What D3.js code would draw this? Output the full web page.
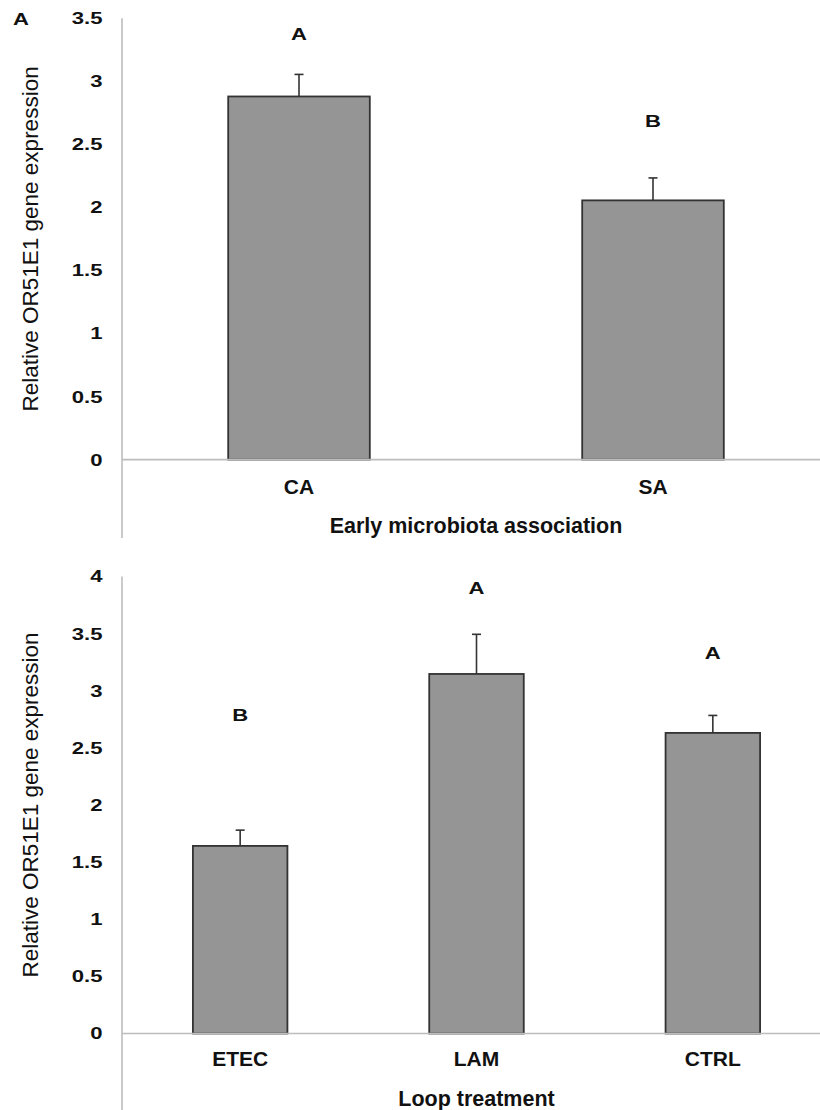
<!DOCTYPE html>
<html>
<head>
<meta charset="utf-8">
<script src="https://cdn.jsdelivr.net/npm/d3@7"></script>
<style>
  body { margin: 0; background: #fff; }
  svg { display: block; font-family: "Liberation Sans", Arial, sans-serif; }
</style>
</head>
<body>
<div id="chart"></div>
<script>
// panel A, top: early microbiota association
const topCategories = ["CA", "SA"];
const topMeans = [2.88, 2.056];
const topErrors = [0.175, 0.178];
const topLetters = ["A", "B"];
const topLetterLevels = [3.38, 2.685];
const topTicks = [0, 0.5, 1, 1.5, 2, 2.5, 3, 3.5];

// bottom: loop treatment
const bottomCategories = ["ETEC", "LAM", "CTRL"];
const bottomMeans = [1.642, 3.147, 2.631];
const bottomErrors = [0.138, 0.347, 0.153];
const bottomLetters = ["B", "A", "A"];
const bottomLetterLevels = [2.79, 3.90, 3.33];
const bottomTicks = [0, 0.5, 1, 1.5, 2, 2.5, 3, 3.5, 4];

const yTitle = "Relative OR51E1 gene expression";

const width = 820;
const height = 1110;

const svg = d3.select("#chart")
  .append("svg")
  .attr("width", width)
  .attr("height", height);

const barFill = "#959595";
const barStroke = "#333";
const axisColor = "#bdbdbd";
const textColor = "#111";
// tick numbers and letters in the source look horizontally stretched
const stretch = 1.3;

function drawPanel(p) {
  const x = d3.scaleBand()
    .domain(p.categories)
    .range([p.left, p.right])
    .padding(0);

  const y = d3.scaleLinear()
    .domain([0, d3.max(p.ticks)])
    .range([p.zeroY, p.topY]);

  const g = svg.append("g");

  const rows = p.categories.map((c, i) => ({
    cat: c,
    mean: p.means[i],
    err: p.errors[i],
    letter: p.letters[i],
    level: p.letterLevels[i]
  }));

  // y tick labels
  const yAxis = g.append("g")
    .attr("transform", `translate(${p.left},0)`)
    .call(d3.axisLeft(y).tickValues(p.ticks).tickSize(0).tickFormat(d => String(d)));
  yAxis.select(".domain").remove();
  yAxis.selectAll("text")
    .attr("x", -19.5 / stretch)
    .attr("transform", `scale(${stretch},1)`)
    .attr("fill", textColor)
    .style("font-size", "17px")
    .style("font-weight", "bold");

  // category labels
  const xAxis = g.append("g")
    .attr("transform", `translate(0,${p.zeroY})`)
    .call(d3.axisBottom(x).tickSize(0).tickPadding(p.labelPad));
  xAxis.select(".domain").remove();
  xAxis.selectAll("text")
    .attr("fill", textColor)
    .style("font-size", "21px")
    .style("font-weight", "bold");

  const bw = x.bandwidth() * 0.4;
  const cx = d => x(d.cat) + x.bandwidth() / 2;

  // error bars (upper only)
  g.selectAll(".err")
    .data(rows)
    .enter()
    .append("line")
    .attr("x1", cx)
    .attr("x2", cx)
    .attr("y1", d => y(d.mean))
    .attr("y2", d => y(d.mean + d.err))
    .attr("stroke", barStroke)
    .attr("stroke-width", 1.6);

  g.selectAll(".cap")
    .data(rows)
    .enter()
    .append("line")
    .attr("x1", d => cx(d) - 4.5)
    .attr("x2", d => cx(d) + 4.5)
    .attr("y1", d => y(d.mean + d.err))
    .attr("y2", d => y(d.mean + d.err))
    .attr("stroke", barStroke)
    .attr("stroke-width", 1.6);

  g.selectAll(".bar")
    .data(rows)
    .enter()
    .append("rect")
    .attr("x", d => cx(d) - bw / 2)
    .attr("y", d => y(d.mean))
    .attr("width", bw)
    .attr("height", d => y(0) - y(d.mean))
    .attr("fill", barFill)
    .attr("stroke", barStroke)
    .attr("stroke-width", 1.8);

  // axis lines
  g.append("line")
    .attr("x1", p.left)
    .attr("x2", p.right)
    .attr("y1", y(0))
    .attr("y2", y(0))
    .attr("stroke", axisColor)
    .attr("stroke-width", 1.6);

  g.append("line")
    .attr("x1", p.left)
    .attr("x2", p.left)
    .attr("y1", p.topY)
    .attr("y2", p.axisBottom)
    .attr("stroke", axisColor)
    .attr("stroke-width", 1.6);

  // significance letters
  g.selectAll(".letter")
    .data(rows)
    .enter()
    .append("text")
    .attr("x", d => cx(d) / stretch)
    .attr("y", d => y(d.level))
    .attr("dy", "0.36em")
    .attr("transform", `scale(${stretch},1)`)
    .attr("text-anchor", "middle")
    .attr("fill", textColor)
    .style("font-size", "17px")
    .style("font-weight", "bold")
    .text(d => d.letter);

  // titles
  g.append("text")
    .attr("x", (p.left + p.right) / 2)
    .attr("y", p.xTitleY)
    .attr("dy", "0.36em")
    .attr("text-anchor", "middle")
    .attr("fill", textColor)
    .style("font-size", "21.5px")
    .style("font-weight", "bold")
    .text(p.xTitle);

  g.append("text")
    .attr("transform", `translate(30,${(p.zeroY + p.topY) / 2}) rotate(-90)`)
    .attr("dy", "0.36em")
    .attr("text-anchor", "middle")
    .attr("fill", textColor)
    .style("font-size", "22.5px")
    .text(yTitle);
}

drawPanel({
  categories: topCategories,
  means: topMeans,
  errors: topErrors,
  letters: topLetters,
  letterLevels: topLetterLevels,
  ticks: topTicks,
  left: 122,
  right: 830,
  zeroY: 459.6,
  topY: 18.3,
  axisBottom: 538,
  labelPad: 19,
  xTitle: "Early microbiota association",
  xTitleY: 525
});

drawPanel({
  categories: bottomCategories,
  means: bottomMeans,
  errors: bottomErrors,
  letters: bottomLetters,
  letterLevels: bottomLetterLevels,
  ticks: bottomTicks,
  left: 122,
  right: 831,
  zeroY: 1033.5,
  topY: 576.5,
  axisBottom: 1110,
  labelPad: 17.5,
  xTitle: "Loop treatment",
  xTitleY: 1098
});

// panel label
svg.append("text")
  .attr("x", 13 / stretch)
  .attr("y", 25)
  .attr("transform", `scale(${stretch},1)`)
  .attr("fill", textColor)
  .style("font-size", "17px")
  .style("font-weight", "bold")
  .text("A");
</script>
</body>
</html>
